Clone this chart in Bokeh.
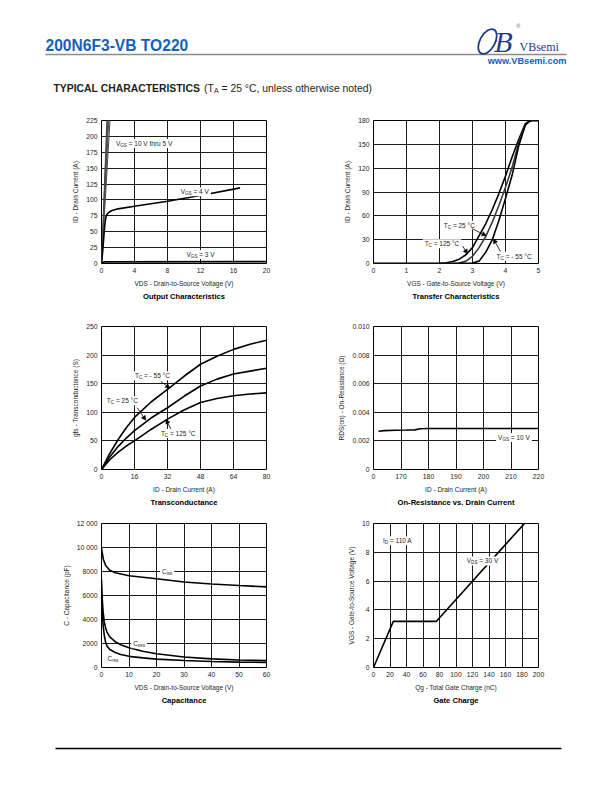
from bokeh.plotting import figure
from bokeh.layouts import column, row
from bokeh.models import Range1d, FixedTicker, Arrow, NormalHead
from bokeh.core.properties import value
from bokeh.embed import file_html
from bokeh.resources import INLINE

FONT = "Liberation Sans"
INK = "#231f20"
BLUE = "#1560bd"

# ---------------- data ----------------
# Output characteristics
out_hi_vds = [[0, 0.66], [0, 0.72], [0, 0.80], [0, 0.90], [0, 1.05]]   # VGS = 10 V thru 5 V
out_hi_id = [0, 230]
out_v4_vds = [0, 0.15, 0.30, 0.42, 0.52, 0.65, 0.85, 1.2, 2, 4, 8, 12, 16.8]
out_v4_id = [0, 20, 45, 63, 72, 77, 80, 83, 86, 90, 98, 107, 119]
out_v3_vds = [0, 0.3, 20]
out_v3_id = [0, 2.5, 3]
out_xticks = [0, 4, 8, 12, 16, 20]
out_yticks = [0, 25, 50, 75, 100, 125, 150, 175, 200, 225]

# Transfer characteristics
tr_vgs = [0, 1, 2.0, 2.2, 2.4, 2.6, 2.8, 3.0, 3.2, 3.4, 3.6, 3.8, 4.0, 4.2, 4.4, 4.6, 4.7, 4.8, 5.0]
tr_125 = [0, 0, 0.3, 1, 2.5, 5.5, 11, 20, 35, 50, 68, 88, 110, 134, 156, 176, 179, 180, 180]
tr_25 = [0, 0, 0, 0.1, 0.2, 0.5, 3, 9, 20, 34, 52, 73, 96, 121, 152, 175, 179, 180, 180]
tr_m55 = [0, 0, 0, 0, 0, 0.1, 0.2, 0.5, 3, 14, 30, 54, 82, 111, 148, 174, 178, 180, 180]
tr_xticks = [0, 1, 2, 3, 4, 5]
tr_yticks = [0, 30, 60, 90, 120, 150, 180]

# Transconductance
gfs_id = [0, 4, 8, 12, 16, 24, 32, 40, 48, 56, 64, 72, 80]
gfs_m55 = [0, 28, 52, 73, 91, 118, 140, 163, 184, 198, 210, 219, 226]
gfs_25 = [0, 22, 40, 55, 68, 90, 108, 128, 146, 158, 167, 172, 177]
gfs_125 = [0, 17, 30, 41, 50, 70, 88, 104, 117, 124, 129, 132, 134]
gfs_xticks = [0, 16, 32, 48, 64, 80]
gfs_yticks = [0, 50, 100, 150, 200, 250]

# On-resistance vs drain current
rds_id = [161.8, 164, 168, 172, 175, 177, 180, 190, 200, 210, 220]
rds_val = [0.00268, 0.00272, 0.00275, 0.00276, 0.00277, 0.00285, 0.00287, 0.00287, 0.00287, 0.00287, 0.00287]
rds_xticks = [160, 170, 180, 190, 200, 210, 220]
rds_xlabels = ["0", "170", "180", "190", "200", "210", "220"]
rds_yticks = [0, 0.002, 0.004, 0.006, 0.008, 0.010]
rds_ylabels = ["0", "0.002", "0.004", "0.006", "0.008", "0.010"]

# Capacitance
cap_ciss_v = [0, 0.3, 0.7, 1.5, 3, 5, 10, 20, 30, 40, 50, 60]
cap_ciss = [10000, 9500, 9000, 8500, 8100, 7900, 7650, 7400, 7120, 6960, 6830, 6720]
cap_v = [0, 0.3, 0.6, 1, 1.5, 2, 3, 5, 7, 10, 15, 20, 30, 40, 50, 60]
cap_coss = [7300, 5600, 4600, 3800, 3300, 2950, 2550, 2150, 1900, 1650, 1350, 1150, 870, 720, 630, 570]
cap_crss = [6000, 4600, 3500, 2700, 2100, 1800, 1500, 1250, 1080, 930, 800, 700, 580, 500, 450, 420]
cap_xticks = [0, 10, 20, 30, 40, 50, 60]
cap_yticks = [0, 2000, 4000, 6000, 8000, 10000, 12000]
cap_ylabels = ["0", "2000", "4000", "6000", "8000", "10 000", "12 000"]

# Gate charge
qg_nc = [0, 24, 76, 183]
qg_vgs = [0, 3.2, 3.2, 10]
qg_xticks = [0, 20, 40, 60, 80, 100, 120, 140, 160, 180, 200]
qg_yticks = [0, 2, 4, 6, 8, 10]

# ---------------- helpers ----------------
W = {' ': .278, '=': .584, '-': .333, '.': .278, ',': .278, '°': .4, '(': .333, ')': .333,
     'A': .667, 'B': .667, 'C': .722, 'D': .722, 'E': .667, 'G': .778, 'I': .278, 'S': .667,
     'T': .611, 'V': .667, 'h': .556, 'r': .333, 'u': .556, 't': .278, 'i': .222, 's': .5,
     'o': .556, 'n': .556, 'l': .222, 'e': .556, 'w': .722, 'd': .556, 'a': .556, 'c': .5,
     'm': .833, 'f': .278}


def tw(s, size):
    return sum(W.get(c, .556) for c in s) * size


def rich(p, ppx, ppy, x, y, parts, size=6.5, sub=4.6, bg=True, color=INK, bold=False):
    total = sum(tw(t, sub if s else size) for t, s in parts)
    if bg:
        p.rect(x=[x + (total / 2) / ppx], y=[y], width=(total + 4) / ppx, height=9 / ppy,
               fill_color="white", line_color=None)
    off = 0.0
    for t, s in parts:
        fs = sub if s else size
        lead = len(t) - len(t.lstrip(' '))
        off += tw(t[:lead], fs)
        core = t.strip(' ')
        p.text(x=[x], y=[y], text=[core], x_offset=off, y_offset=(2 if s else 0),
               text_font=value(FONT), text_font_size=f"{fs}px", text_baseline="middle",
               text_align="left", text_color=color,
               text_font_style=("bold" if bold else "normal"))
        off += tw(core, fs) + tw(t[lead + len(core):], fs)


def make_fig(xr, yr, xticks, yticks, xlabel, ylabel, title, top, bottom, left, right, fh,
             xover=None, yover=None):
    p = figure(frame_width=165, frame_height=fh, x_range=Range1d(*xr), y_range=Range1d(*yr),
               output_backend="svg", toolbar_location=None, min_border_left=left,
               min_border_right=right, min_border_top=top, min_border_bottom=bottom,
               title=title, title_location="below")
    p.title.align = "center"
    p.title.text_font = FONT
    p.title.text_font_size = "7.6px"
    p.title.text_font_style = "bold"
    p.title.text_color = "black"
    p.title.standoff = 1
    p.outline_line_color = "black"
    p.outline_line_width = 1
    p.outline_line_alpha = 1
    for ax, ticks, lab, over in ((p.xaxis[0], xticks, xlabel, xover), (p.yaxis[0], yticks, ylabel, yover)):
        ax.ticker = FixedTicker(ticks=ticks)
        ax.major_tick_in = 0
        ax.major_tick_out = 0
        ax.minor_tick_in = 0
        ax.minor_tick_out = 0
        ax.axis_line_color = None
        ax.major_label_text_font = FONT
        ax.major_label_text_font_size = "6.8px"
        ax.major_label_text_color = INK
        ax.major_label_standoff = 4
        ax.axis_label = lab
        ax.axis_label_text_font = FONT
        ax.axis_label_text_font_size = "6.5px"
        ax.axis_label_text_font_style = "normal"
        ax.axis_label_text_color = INK
        ax.axis_label_standoff = 4
        if over:
            ax.major_label_overrides = over
    for g in (p.xgrid[0], p.ygrid[0]):
        g.grid_line_color = "black"
        g.grid_line_width = 0.9
        g.grid_line_alpha = 1
    p.background_fill_color = "white"
    return p


def arrow(p, xs, ys, xe, ye):
    p.add_layout(Arrow(x_start=xs, y_start=ys, x_end=xe, y_end=ye, line_width=0.8, line_color="black",
                       end=NormalHead(size=4.5, fill_color="black", line_color="black", line_width=0.5)))


FW = 165.0
LW = 1.6
LB = 101   # left border of left-hand charts
RB = 65    # left border of right-hand charts

# ---------------- chart 1: output ----------------
p1 = make_fig((0, 20), (0, 225), out_xticks, out_yticks, "VDS - Drain-to-Source Voltage (V)",
              "ID - Drain Current (A)", "Output Characteristics", 8, 49, LB, 42, 143)
for xs in out_hi_vds:
    p1.line(xs, out_hi_id, line_color="#4a4a4a", line_width=1.0)
p1.line(out_v4_vds, out_v4_id, line_color="black", line_width=LW)
p1.line(out_v3_vds, out_v3_id, line_color="black", line_width=LW)
ppx1, ppy1 = FW / 20, 143 / 225
rich(p1, ppx1, ppy1, 1.75, 189, [("V", 0), ("GS", 1), (" = 10 V thru 5 V", 0)])
rich(p1, ppx1, ppy1, 9.6, 113, [("V", 0), ("GS", 1), (" = 4 V", 0)])
rich(p1, ppx1, ppy1, 10.3, 14, [("V", 0), ("GS", 1), (" = 3 V", 0)])

# ---------------- chart 2: transfer ----------------
p2 = make_fig((0, 5), (0, 180), tr_xticks, tr_yticks, "VGS - Gate-to-Source Voltage (V)",
              "ID - Drain Current (A)", "Transfer Characteristics", 8, 49, RB, 66, 143)
p2.line(tr_vgs, tr_125, line_color="black", line_width=LW)
p2.line(tr_vgs, tr_25, line_color="#3a3a3a", line_width=LW)
p2.line(tr_vgs, tr_m55, line_color="black", line_width=LW)
ppx2, ppy2 = FW / 5, 143 / 180
rich(p2, ppx2, ppy2, 2.13, 48, [("T", 0), ("C", 1), (" = 25 °C", 0)])
rich(p2, ppx2, ppy2, 1.55, 25, [("T", 0), ("C", 1), (" = 125 °C", 0)])
rich(p2, ppx2, ppy2, 3.73, 9, [("T", 0), ("C", 1), (" = - 55 °C", 0)])
arrow(p2, 2.98, 44, 3.42, 35)
arrow(p2, 2.7, 22, 2.85, 12)
arrow(p2, 3.85, 15, 3.63, 31)

# ---------------- chart 3: transconductance ----------------
p3 = make_fig((0, 80), (0, 250), gfs_xticks, gfs_yticks, "ID - Drain Current (A)",
              "gfs - Transconductance (S)", "Transconductance", 14, 43, LB, 42, 143)
p3.line(gfs_id, gfs_m55, line_color="black", line_width=LW)
p3.line(gfs_id, gfs_25, line_color="black", line_width=LW)
p3.line(gfs_id, gfs_125, line_color="black", line_width=LW)
ppx3, ppy3 = FW / 80, 143 / 250
rich(p3, ppx3, ppy3, 16.2, 164, [("T", 0), ("C", 1), (" = - 55 °C", 0)])
rich(p3, ppx3, ppy3, 2.6, 120, [("T", 0), ("C", 1), (" = 25 °C", 0)])
rich(p3, ppx3, ppy3, 28.8, 63, [("T", 0), ("C", 1), (" = 125 °C", 0)])
arrow(p3, 28.7, 154, 33.2, 142)
arrow(p3, 17.3, 108, 21.5, 86)
arrow(p3, 33.6, 71, 31.2, 88)

# ---------------- chart 4: on-resistance ----------------
p4 = make_fig((160, 220), (0, 0.010), rds_xticks, rds_yticks, "ID - Drain Current (A)",
              "RDS(on) - On-Resistance (Ω)", "On-Resistance vs. Drain Current", 14, 43, RB, 66, 143,
              xover={t: l for t, l in zip(rds_xticks, rds_xlabels)},
              yover={t: l for t, l in zip(rds_yticks, rds_ylabels)})
p4.line(rds_id, rds_val, line_color="black", line_width=LW)
ppx4, ppy4 = FW / 60, 143 / 0.010
rich(p4, ppx4, ppy4, 205.3, 0.00223, [("V", 0), ("GS", 1), (" = 10 V", 0)])

# ---------------- chart 5: capacitance ----------------
p5 = make_fig((0, 60), (0, 12000), cap_xticks, cap_yticks, "VDS - Drain-to-Source Voltage (V)",
              "C - Capacitance (pF)", "Capacitance", 11, 45, LB, 42, 144,
              yover={t: l for t, l in zip(cap_yticks, cap_ylabels)})
p5.line(cap_ciss_v, cap_ciss, line_color="black", line_width=LW)
p5.line(cap_v, cap_coss, line_color="black", line_width=LW)
p5.line(cap_v, cap_crss, line_color="black", line_width=LW)
ppx5, ppy5 = FW / 60, 144 / 12000
rich(p5, ppx5, ppy5, 22.0, 7960, [("C", 0), ("iss", 1)])
rich(p5, ppx5, ppy5, 11.5, 1980, [("C", 0), ("oss", 1)])
rich(p5, ppx5, ppy5, 2.2, 760, [("C", 0), ("rss", 1)], bg=False)

# ---------------- chart 6: gate charge ----------------
p6 = make_fig((0, 200), (0, 10), qg_xticks, qg_yticks, "Qg - Total Gate Charge (nC)",
              "VGS - Gate-to-Source Voltage (V)", "Gate Charge", 11, 45, RB, 66, 144)
p6.line(qg_nc, qg_vgs, line_color="black", line_width=LW)
ppx6, ppy6 = FW / 200, 144 / 10
rich(p6, ppx6, ppy6, 11.5, 8.8, [("I", 0), ("D", 1), (" = 110 A", 0)])
rich(p6, ppx6, ppy6, 113, 7.4, [("V", 0), ("DS", 1), (" = 30 V", 0)])

# ---------------- header (page coordinates) ----------------
TOTW = LB + 165 + 42 + RB + 165 + 66
hd = figure(width=TOTW, height=112, x_range=Range1d(0, TOTW), y_range=Range1d(112, 0),
            output_backend="svg", toolbar_location=None, min_border=0)
hd.axis.visible = False
hd.grid.visible = False
hd.outline_line_color = None
hd.text(x=[45], y=[45], text=["200N6F3-VB TO220"], text_font=value(FONT), text_font_size="15.6px",
        text_font_style="bold", text_color=BLUE, text_baseline="middle", text_align="left")
hd.segment(x0=[45], y0=[54], x1=[566], y1=[54], line_color="#8c8c8c", line_width=1.6)
# logo
hd.ellipse(x=[487], y=[41], width=[15], height=[27], angle=[-0.5], fill_color=None,
           line_color="#1e3c8c", line_width=1.8)
hd.text(x=[494], y=[42], text=["B"], text_font=value("DejaVu Serif"), text_font_size="26px",
        text_font_style="italic", text_color="#1e3c8c", text_baseline="middle", text_align="left")
hd.text(x=[516], y=[25], text=["®"], text_font=value(FONT), text_font_size="5px",
        text_color="#555555", text_baseline="middle", text_align="left")
hd.text(x=[519], y=[46], text=["VBsemi"], text_font=value("Liberation Serif"), text_font_size="12px",
        text_color="#1e3c8c", text_baseline="middle", text_align="left")
hd.text(x=[566], y=[60.5], text=["www.VBsemi.com"], text_font=value(FONT), text_font_size="9.2px",
        text_font_style="bold", text_color=BLUE, text_baseline="middle", text_align="right")
rich(hd, 1, -1, 53, 88, [("TYPICAL CHARACTERISTICS", 0)], size=10.4, bg=False, bold=True)
x0 = 53 + tw("TYPICAL CHARACTERISTICS", 10.4) * 1.07 + 4
rich(hd, 1, -1, x0, 88, [("(T", 0), ("A", 1), (" = 25 °C, unless otherwise noted)", 0)],
     size=10.4, sub=7, bg=False)

# ---------------- footer (page coordinates) ----------------
ft = figure(width=TOTW, height=64, x_range=Range1d(0, TOTW), y_range=Range1d(776, 712),
            output_backend="svg", toolbar_location=None, min_border=0)
ft.axis.visible = False
ft.grid.visible = False
ft.outline_line_color = None
ft.segment(x0=[55], y0=[748], x1=[561], y1=[748], line_color="black", line_width=1.3)

layout = column(hd, row(p1, p2, spacing=0), row(p3, p4, spacing=0), row(p5, p6, spacing=0), ft,
                spacing=0)

open("out.html", "w").write(file_html(layout, INLINE))
